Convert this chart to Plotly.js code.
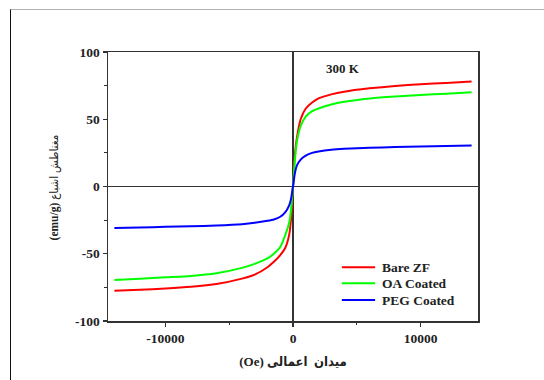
<!DOCTYPE html>
<html>
<head>
<meta charset="utf-8">
<script src="https://cdn.plot.ly/plotly-3.0.1.min.js"></script>
<style>
  html, body { margin: 0; padding: 0; background: #fff; }
  #frame { position: absolute; left: 10px; top: 9px; width: 534px; height: 371px;
           border-left: 1.5px solid #111; border-top: 1px solid #b0b0b0; }
  #chart { position: absolute; left: 0; top: 0; width: 544px; height: 380px; }
</style>
</head>
<body>
<div id="chart"></div>
<div id="frame"></div>
<script>
// Applied field (Oe)
const fieldOe = [-14000, -12000, -10000, -8000, -6000, -4000, -3000, -2000, -1500, -1000, -600, -300, -150, 0,
                 150, 300, 600, 1000, 1500, 2000, 3000, 4000, 6000, 8000, 10000, 12000, 14000];

// Magnetization (emu/g) for each sample
const bareZF = [-77.5, -76.8, -75.8, -74.5, -72.5, -68.5, -65.5, -60, -56, -51, -45.5, -36, -24, 0,
                24, 36, 50, 58, 62.5, 65.5, 68.5, 70.5, 73, 74.8, 76, 77, 78];
const oaCoated = [-69.5, -68.5, -67.5, -66.5, -64.5, -60.5, -57.5, -53.5, -50, -45, -36, -27, -17, 0,
                  20, 33, 45, 52, 56, 58, 61, 63, 65.5, 67, 68, 69, 70];
const pegCoated = [-30.8, -30.5, -30, -29.6, -29, -28, -27, -25.5, -24.5, -22.5, -19, -14, -9, 0,
                   10, 15.5, 20, 23, 25, 26, 27.3, 28, 28.8, 29.3, 29.8, 30.2, 30.5];

const seriesNames = ['Bare ZF', 'OA Coated', 'PEG Coated'];
const seriesColors = ['#ff0000', '#00ff00', '#0000ff'];
const seriesValues = [bareZF, oaCoated, pegCoated];

const xTicks = [-10000, 0, 10000];
const yTicks = [-100, -50, 0, 50, 100];

const serif = 'Liberation Serif';
const arabicMix = 'Liberation Serif, DejaVu Sans Condensed, DejaVu Sans';
const ink = '#222';

const traces = seriesValues.map((vals, i) => ({
  x: fieldOe,
  y: vals,
  name: seriesNames[i],
  type: 'scatter',
  mode: 'lines',
  line: { color: seriesColors[i], width: 2, shape: 'spline', smoothing: 0.6 }
}));

const axisCommon = {
  showline: true, linecolor: '#333', linewidth: 1.5, mirror: true,
  ticks: 'outside', ticklen: 4, tickwidth: 1.2, tickcolor: '#333',
  showgrid: false,
  zeroline: true, zerolinecolor: '#333', zerolinewidth: 1.5,
  tickfont: { family: serif, size: 13.5, color: ink, weight: 'bold' },
  minor: { ticks: 'outside', ticklen: 2.5, tickwidth: 1, tickcolor: '#333' }
};

// Compact key in the lower right of the plot: a colour stroke and a label per sample
const keyX0 = 0.632, keyX1 = 0.722, keyTextX = 0.735;
const keyRows = [0.200, 0.140, 0.078];
const keyShapes = seriesNames.map((n, i) => ({
  type: 'line', xref: 'paper', yref: 'paper',
  x0: keyX0, x1: keyX1, y0: keyRows[i], y1: keyRows[i],
  line: { color: seriesColors[i], width: 2 }
}));
const keyLabels = seriesNames.map((n, i) => ({
  text: '<b>' + n + '</b>', xref: 'paper', yref: 'paper',
  x: keyTextX, y: keyRows[i], xanchor: 'left', yanchor: 'middle', showarrow: false,
  font: { family: serif, size: 13.5, color: ink }
}));

const layout = {
  width: 544, height: 380,
  margin: { l: 108, r: 66, t: 52, b: 59 },
  paper_bgcolor: '#fff', plot_bgcolor: '#fff',
  showlegend: false,
  xaxis: Object.assign({}, axisCommon, {
    range: [-14500, 14500],
    tickvals: xTicks, ticktext: xTicks.map(String),
    minor: Object.assign({}, axisCommon.minor, { tickvals: [-5000, 5000] }),
    title: { text: '(Oe) میدان  اعمالی', standoff: 12,
             font: { family: arabicMix, size: 13, color: ink, weight: 'bold' } }
  }),
  yaxis: Object.assign({}, axisCommon, {
    range: [-100, 100],
    tickvals: yTicks, ticktext: yTicks.map(String),
    minor: Object.assign({}, axisCommon.minor, { tickvals: [-75, -25, 25, 75] })
  }),
  shapes: keyShapes,
  annotations: [
    { text: '<b>300 K</b>', xref: 'paper', yref: 'paper', x: 0.635, y: 0.94,
      xanchor: 'center', yanchor: 'middle', showarrow: false,
      font: { family: serif, size: 13, color: ink } },
    { text: '<b>(emu/g)</b> مغناطش اشباع', xref: 'paper', yref: 'paper', x: -0.143, y: 0.497,
      xanchor: 'center', yanchor: 'middle', textangle: -90, showarrow: false,
      font: { family: arabicMix, size: 11.5, color: ink } }
  ].concat(keyLabels)
};

Plotly.newPlot('chart', traces, layout, { displayModeBar: false, staticPlot: true });
</script>
</body>
</html>
